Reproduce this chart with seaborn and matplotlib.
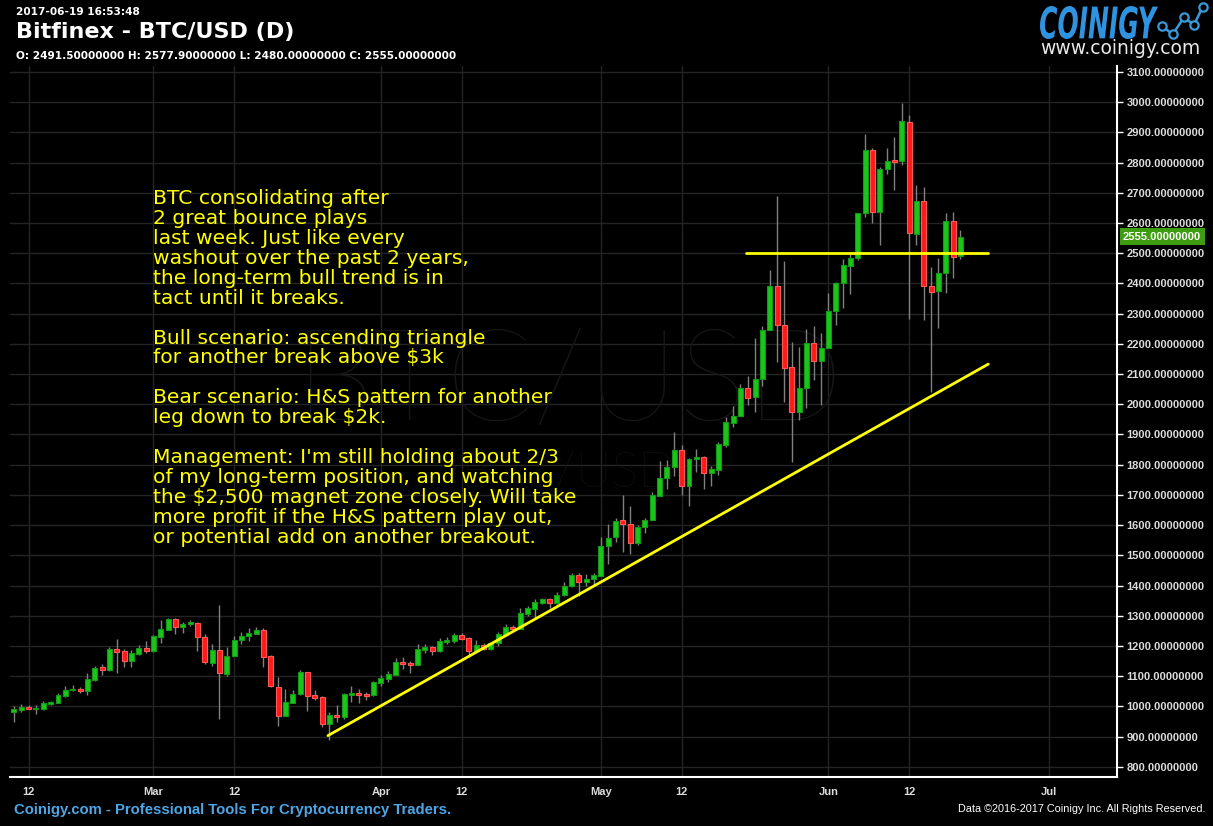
import matplotlib
matplotlib.use('Agg')
import matplotlib.pyplot as plt
import matplotlib.dates as mdates
import numpy as np
import pandas as pd
import seaborn as sns
from matplotlib.lines import Line2D
from matplotlib.patches import PathPatch
from matplotlib.textpath import TextPath
from matplotlib.font_manager import FontProperties
from matplotlib.transforms import blended_transform_factory, Affine2D


# daily candles, Bitfinex BTC/USD, 2017-02-10 .. 2017-06-19
opens = [982, 989, 998, 992, 992, 1009, 1012, 1035, 1055, 1057, 1052, 1088, 1130, 1120, 1189, 1182, 1151, 1174, 1192,
         1184, 1230, 1253, 1288, 1263, 1273, 1277, 1231, 1144, 1188, 1108, 1167, 1220, 1233, 1240, 1254, 1165, 1065,
         969, 1012, 1040, 1112, 1036, 1030, 940, 971, 966, 1039, 1044, 1039, 1038,
         1078, 1091, 1104, 1148, 1142, 1137, 1187, 1196, 1183, 1214, 1217, 1235, 1225, 1183, 1204, 1190, 1211, 1235,
         1261, 1256, 1306, 1323, 1343, 1354, 1343, 1369, 1398, 1436, 1412, 1422,
         1433, 1530, 1560, 1618, 1604, 1540, 1594, 1617, 1697, 1755, 1792, 1850, 1730, 1818, 1825, 1771, 1784, 1866,
         1938, 1962, 2055, 2024, 2083, 2245, 2392, 2262, 2124, 1975, 2054, 2204, 2143,
         2186, 2308, 2401, 2459, 2484, 2632, 2841, 2638, 2778, 2808, 2804, 2935, 2564, 2672, 2390, 2375, 2434, 2606,
         2491.5]
highs = [1001, 1008, 1004, 1004, 1018, 1018, 1043, 1067, 1070, 1064, 1110, 1133, 1140, 1196, 1222, 1189, 1186, 1202, 1215,
         1235, 1285, 1291, 1291, 1279, 1285, 1280, 1241, 1206, 1337, 1196, 1232, 1245, 1258, 1262, 1258, 1170, 1096,
         1057, 1054, 1120, 1112, 1054, 1033, 981, 1004, 1044, 1067, 1057, 1049, 1084,
         1105, 1116, 1160, 1164, 1150, 1206, 1206, 1201, 1225, 1228, 1243, 1243, 1228, 1219, 1211, 1213, 1245, 1272,
         1269, 1325, 1333, 1355, 1357, 1358, 1378, 1411, 1443, 1440, 1438, 1440,
         1562, 1605, 1624, 1698, 1664, 1601, 1624, 1710, 1813, 1814, 1907, 1864, 1823, 1853, 1830, 1796, 1875, 1957,
         1995, 2068, 2095, 2219, 2259, 2443, 2688, 2475, 2207, 2191, 2248, 2260, 2237,
         2367, 2405, 2480, 2498, 2633, 2896, 2847, 2785, 2847, 2886, 2998, 2959, 2727, 2719, 2455, 2485, 2634, 2637,
         2577.9]
lows = [949, 982, 990, 975, 988, 1005, 1010, 1032, 1052, 1045, 1037, 1085, 1104, 1118, 1111, 1131, 1131, 1169, 1176,
        1180, 1210, 1252, 1238, 1243, 1266, 1184, 1140, 1133, 958, 1100, 1166, 1205, 1215, 1238, 1130, 1064, 935,
        969, 1012, 1036, 986, 1021, 930, 889, 949, 959, 1015, 1010, 1022, 1035,
        1068, 1081, 1104, 1124, 1110, 1137, 1177, 1169, 1180, 1207, 1208, 1219, 1162, 1180, 1186, 1186, 1200, 1233,
        1250, 1256, 1299, 1290, 1338, 1325, 1340, 1365, 1396, 1366, 1398, 1401,
        1433, 1471, 1543, 1512, 1503, 1535, 1574, 1617, 1696, 1721, 1762, 1698, 1664, 1776, 1720, 1729, 1767, 1860,
        1925, 1962, 1997, 1976, 2060, 2245, 2140, 2008, 1809, 1947, 1988, 2079, 1996,
        2186, 2264, 2320, 2366, 2477, 2619, 2599, 2526, 2761, 2709, 2791, 2281, 2527, 2279, 2042, 2254, 2367, 2417,
        2480]
closes = [991, 998, 992, 995, 1010, 1013, 1036, 1054, 1057, 1052, 1090, 1126, 1121, 1189, 1180, 1151, 1176, 1192, 1184,
          1232, 1255, 1288, 1263, 1274, 1278, 1230, 1147, 1188, 1111, 1168, 1221, 1234, 1242, 1254, 1164, 1068, 969,
          1013, 1040, 1112, 1035, 1029, 940, 970, 965, 1040, 1044, 1039, 1037, 1079,
          1093, 1106, 1148, 1140, 1137, 1189, 1196, 1183, 1217, 1220, 1235, 1223, 1183, 1204, 1191, 1208, 1238, 1264,
          1255, 1308, 1325, 1345, 1354, 1343, 1368, 1398, 1436, 1412, 1420, 1434,
          1532, 1557, 1615, 1602, 1540, 1594, 1617, 1701, 1756, 1793, 1850, 1730, 1818, 1825, 1771, 1785, 1867, 1940,
          1962, 2055, 2022, 2083, 2246, 2392, 2262, 2119, 1975, 2055, 2204, 2143, 2187,
          2310, 2402, 2460, 2485, 2633, 2842, 2638, 2778, 2806, 2802, 2938, 2566, 2673, 2392, 2373, 2434, 2606, 2488,
          2555]
days = pd.date_range('2017-02-10', '2017-06-19', freq='D')

# hand-drawn trend lines
trend_dates = ['2017-03-24 19:00', '2017-06-22 19:00']
trend_prices = [903, 2133]
level_dates = ['2017-05-20 19:00', '2017-06-22 19:00']
level_prices = [2500, 2500]

x_tick_dates = ['2017-02-12', '2017-03-01', '2017-03-12', '2017-04-01', '2017-04-12',
                '2017-05-01', '2017-05-12', '2017-06-01', '2017-06-12', '2017-07-01']
x_tick_labels = ['12', 'Mar', '12', 'Apr', '12', 'May', '12', 'Jun', '12', 'Jul']
y_ticks = list(range(800, 3200, 100))
last_price = 2555

note = ("BTC consolidating after\n2 great bounce plays\nlast week. Just like every\n"
        "washout over the past 2 years,\nthe long-term bull trend is in\ntact until it breaks.\n\n"
        "Bull scenario: ascending triangle\nfor another break above $3k\n\n"
        "Bear scenario: H&S pattern for another\nleg down to break $2k.\n\n"
        "Management: I'm still holding about 2/3\nof my long-term position, and watching\n"
        "the $2,500 magnet zone closely. Will take\nmore profit if the H&S pattern play out,\n"
        "or potential add on another breakout.")

sns.set_theme(style='dark', rc={'axes.facecolor': 'black', 'figure.facecolor': 'black',
                                'grid.color': '#242424', 'text.color': 'white'})
plt.rcParams['font.family'] = ['DejaVu Sans']

W, H = 1213, 826
fig = plt.figure(figsize=(W / 100, H / 100), dpi=100)
ax = fig.add_axes([10 / W, 49 / H, 1107 / W, 711 / H])

o = np.array(opens, float)
c = np.array(closes, float)
hi = np.array(highs, float)
lo = np.array(lows, float)
x = mdates.date2num(days)

# candles
ax.vlines(x, lo, hi, color='#808080', lw=1, zorder=3)
up = c >= o
bottom = np.minimum(o, c)
height = np.abs(c - o)
small = height < 5
bottom[small] = (o[small] + c[small]) / 2 - 2.5
height[small] = 5
ax.bar(x[up], height[up], bottom=bottom[up], width=0.68, color='#1cc41c', edgecolor='#139a13',
       lw=0.8, zorder=4)
ax.bar(x[~up], height[~up], bottom=bottom[~up], width=0.68, color='#ff1a1a', edgecolor='#ff5a5a',
       lw=0.8, zorder=4)

# trend lines
sns.lineplot(x=mdates.date2num(pd.to_datetime(trend_dates)), y=trend_prices, ax=ax,
             color='#ffff00', lw=2, sort=False, estimator=None, zorder=5)
sns.lineplot(x=mdates.date2num(pd.to_datetime(level_dates)), y=level_prices, ax=ax,
             color='#ffff00', lw=2, sort=False, estimator=None, zorder=5)

ax.set_xlim(mdates.date2num(pd.Timestamp('2017-02-09 11:00')), mdates.date2num(pd.Timestamp('2017-07-10 08:00')))
ax.set_ylim(766, 3120)
ax.set_xlabel('')
ax.set_ylabel('')

ax.set_xticks(mdates.date2num(pd.to_datetime(x_tick_dates)))
ax.set_xticklabels(x_tick_labels)
ax.set_yticks(y_ticks)
ax.set_yticklabels([f'{v:.8f}' for v in y_ticks])
ax.yaxis.tick_right()
ax.grid(True, color='#242424', lw=1)
ax.tick_params(axis='both', colors='white', length=4, width=1, labelcolor='#dcdcdc')
ax.tick_params(axis='y', pad=3)
ax.tick_params(axis='x', pad=3)
for lab in ax.get_xticklabels() + ax.get_yticklabels():
    lab.set_fontfamily('Liberation Sans')
    lab.set_fontweight('bold')
    lab.set_fontsize(8)
for side in ['left', 'top']:
    ax.spines[side].set_visible(False)
for side in ['right', 'bottom']:
    ax.spines[side].set_visible(True)
    ax.spines[side].set_color('white')
    ax.spines[side].set_linewidth(1.5)

# watermark
ax.text(0.505, 0.551, 'BTC/USD', transform=ax.transAxes, ha='center', va='center', fontsize=92,
        color='#161616', family='Lato', fontweight='light', zorder=1)
ax.text(0.505, 0.427, 'BTC/USD', transform=ax.transAxes, ha='center', va='center', fontsize=36,
        color='#161616', family='Lato', fontweight='light', zorder=1)

# last price tag
tr = blended_transform_factory(ax.transAxes, ax.transData)
ax.text(1.0055, last_price, f'{last_price:.8f}', transform=tr, ha='left', va='center', fontsize=8,
        family='Liberation Sans', fontweight='bold', color='white', zorder=6, clip_on=False,
        bbox=dict(boxstyle='square,pad=0.3', fc='#3d9c10', ec='none'))

# commentary
fig.text(153 / W, 1 - 189 / H, note, ha='left', va='top', fontsize=14.6, color='#ffff00',
         linespacing=1.062, zorder=7)

# header
fig.text(16 / W, 1 - 12 / H, '2017-06-19 16:53:48', ha='left', va='center', fontsize=7.6,
         fontweight='bold', color='white')
fig.text(16 / W, 1 - 32 / H, 'Bitfinex - BTC/USD (D)', ha='left', va='center', fontsize=16,
         fontweight='bold', color='white')
fig.text(16 / W, 1 - 56 / H, 'O: 2491.50000000 H: 2577.90000000 L: 2480.00000000 C: 2555.00000000',
         ha='left', va='center', fontsize=7.6, fontweight='bold', color='white')

# logo
tp = TextPath((0, 0), 'COINIGY', size=40, prop=FontProperties(family='DejaVu Sans', weight='bold',
                                                               style='italic'))
ext = tp.get_extents()
logo_tf = (Affine2D().translate(-ext.x0, -ext.y0).scale(118 / ext.width, 33 / ext.height)
           .translate(1040, H - 39))
fig.add_artist(PathPatch(tp, transform=logo_tf, fc='#2f93df', ec='none'))
fig.text(1040 / W, 1 - 48 / H, 'www.coinigy.com', ha='left', va='center', fontsize=13.5, color='#e8e8e8')
lx = np.array([1161.7, 1172.7, 1184, 1194, 1202.7]) / W
ly = 1 - np.array([26, 34.3, 17.3, 25, 6.7]) / H
fig.add_artist(Line2D(lx, ly, color='#3a9ad9', lw=1.8, marker='o', markersize=6,
                      markerfacecolor='black', markeredgecolor='#3a9ad9', markeredgewidth=1.6))

# footer
fig.text(14 / W, 1 - 810 / H, 'Coinigy.com - Professional Tools For Cryptocurrency Traders.', ha='left',
         va='center', fontsize=10.7, family='Liberation Sans', fontweight='bold', color='#4ea6e6')
fig.text(1205 / W, 1 - 809 / H, 'Data \u00a92016-2017 Coinigy Inc. All Rights Reserved.', ha='right',
         va='center', fontsize=7.8, family='Liberation Sans', color='white')

fig.savefig('out.png', dpi=100, facecolor='black')
